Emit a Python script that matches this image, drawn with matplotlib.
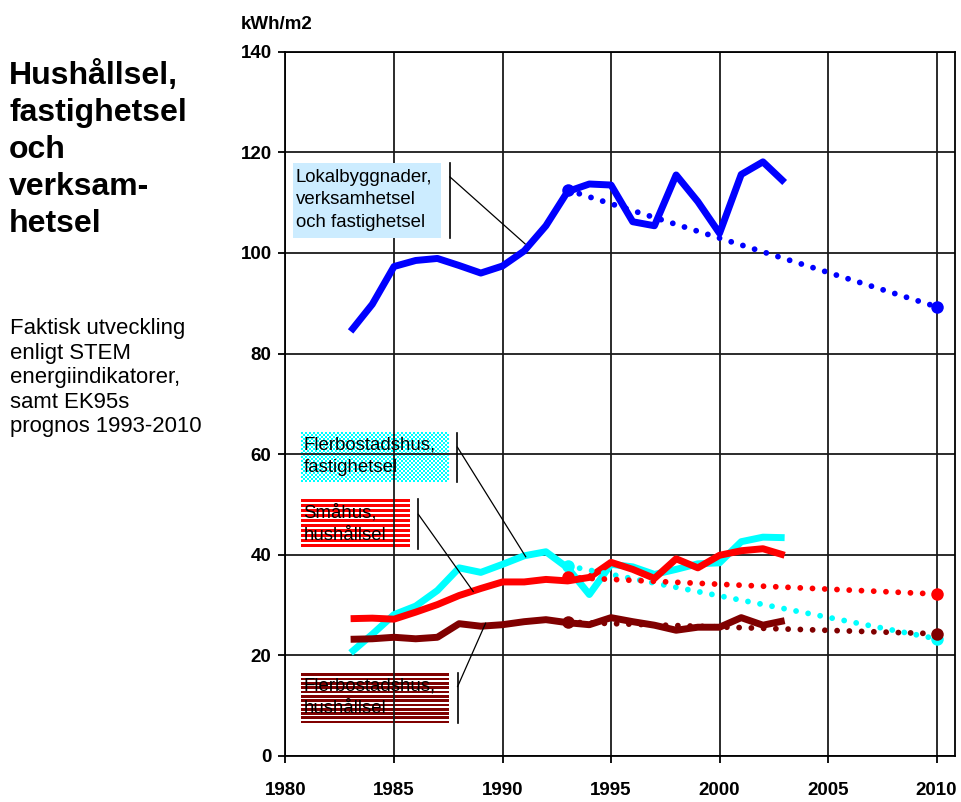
import matplotlib
matplotlib.use("Agg")
import matplotlib.pyplot as plt
import numpy as np
from matplotlib.patches import Rectangle

plt.rcParams['font.family'] = ['Liberation Sans', 'DejaVu Sans']

# faktisk utveckling 1983-2003
years = list(range(1983, 2004))
lokal = [84.4, 89.8, 97.3, 98.5, 98.9, 97.5, 96.0, 97.4, 100.4, 105.4, 112.2,
         113.7, 113.5, 106.2, 105.4, 115.5, 110.2, 103.9, 115.6, 118.1, 114.0]
fler_fast = [20.5, 24.2, 28.1, 29.8, 32.9, 37.4, 36.5, 38.1, 39.8, 40.6, 37.4,
             32.1, 38.1, 37.6, 36.1, 37.1, 38.2, 38.4, 42.6, 43.5, 43.4]
smahus = [27.3, 27.4, 27.2, 28.6, 30.1, 31.9, 33.3, 34.6, 34.6, 35.1, 34.8,
          35.5, 38.5, 37.1, 35.3, 39.2, 37.4, 39.9, 40.8, 41.2, 39.9]
fler_hush = [23.2, 23.3, 23.6, 23.3, 23.6, 26.3, 25.8, 26.1, 26.7, 27.1, 26.5,
             26.1, 27.5, 26.7, 26.0, 25.0, 25.6, 25.6, 27.5, 26.0, 26.9]

# EK95 prognos
prog_years = [1993, 2010]
lokal_prog = [112.5, 89.3]
fler_fast_prog = [37.8, 23.3]
smahus_prog = [35.5, 32.2]
fler_hush_prog = [26.6, 24.3]

x_ticks = list(range(1980, 2011, 5))
y_ticks = list(range(0, 141, 20))

BLUE = '#0000FF'
CYAN = '#00FFFF'
RED = '#FF0000'
DRED = '#800000'

fig = plt.figure(figsize=(9.62, 8.02), dpi=100, facecolor='white')
W, H = 962, 802
ax = fig.add_axes([285.5 / W, 1 - 756 / H, (955 - 285.5) / W, (756 - 51.7) / H])
ax.patch.set_visible(False)
ax.set_xlim(1980, 2010.85)
ax.set_ylim(0, 140)
ax.set_xticks(x_ticks)
ax.set_yticks(y_ticks)
ax.grid(True, color='#1a1a1a', lw=1.3)
for s in ax.spines.values():
    s.set_color('black')
    s.set_linewidth(1.3)
ax.tick_params(axis='x', direction='out', length=5, width=1.3, pad=13.5)
ax.tick_params(axis='y', direction='out', length=5, width=1.3, pad=5)
for lab in ax.get_xticklabels() + ax.get_yticklabels():
    lab.set_fontweight('bold')
    lab.set_fontsize(13.5)

dot = (0, (0.001, 2.1))
series = [(fler_fast, fler_fast_prog, CYAN),
          (fler_hush, fler_hush_prog, DRED),
          (smahus, smahus_prog, RED),
          (lokal, lokal_prog, BLUE)]
for actual, prog, col in series:
    ax.plot(years, actual, color=col, lw=5, solid_joinstyle='round',
            solid_capstyle='butt', zorder=3)
for actual, prog, col in series:
    ax.plot(prog_years, prog, color=col, lw=4.2, linestyle=dot,
            dash_capstyle='round', marker='o', markersize=9,
            markeredgewidth=0, zorder=4)

BOX_FS = 13.4
BOX_LS = 1.42

# etikett: Lokalbyggnader
ax.add_patch(Rectangle((1980.35, 103.0), 1987.17 - 1980.35, 117.9 - 103.0,
                       facecolor='#CCECFF', edgecolor='none', zorder=2))
ax.text(1980.47, 110.6, 'Lokalbyggnader,\nverksamhetsel\noch fastighetsel',
        fontsize=BOX_FS, va='center', ha='left', linespacing=BOX_LS, zorder=5)
ax.plot([1987.58, 1987.58], [103.0, 117.9], color='black', lw=1.2, zorder=5)
ax.plot([1987.58, 1991.04], [115.1, 101.8], color='black', lw=0.9, zorder=5)


def pattern_box(x0, y0, x1, y1, kind, color):
    (px0, py0), (px1, py1) = ax.transData.transform([(x0, y0), (x1, y1)])
    w = int(round(px1 - px0))
    h = int(round(py1 - py0))
    rgba = np.zeros((h, w, 4))
    rgba[..., :3] = matplotlib.colors.to_rgb(color)
    rr, cc = np.mgrid[0:h, 0:w]
    if kind == 'checker':
        mask = ((rr // 2) + (cc // 2)) % 2 == 0
    elif kind == 'red':
        mask = (rr % 5.0) < 2.8
    else:
        mask = (rr % 4.3) < 2.7
    rgba[..., 3] = mask.astype(float)
    fig.figimage(rgba, int(round(px0)), int(round(py0)), zorder=-1, origin='upper')


# Flerbostadshus, fastighetsel
pattern_box(1980.70, 54.4, 1987.53, 64.4, 'checker', CYAN)
ax.text(1980.82, 59.5, 'Flerbostadshus,\nfastighetsel', fontsize=BOX_FS,
        va='center', ha='left', linespacing=BOX_LS, zorder=5)
ax.plot([1987.92, 1987.92], [54.5, 64.2], color='black', lw=1.2, zorder=5)
ax.plot([1987.92, 1991.07], [61.4, 39.6], color='black', lw=0.9, zorder=5)

# Småhus, hushållsel
pattern_box(1980.70, 41.1, 1985.71, 51.1, 'red', RED)
ax.text(1980.82, 46.2, 'Småhus,\nhushållsel', fontsize=BOX_FS,
        va='center', ha='left', linespacing=BOX_LS, zorder=5)
ax.plot([1986.12, 1986.12], [41.2, 51.1], color='black', lw=1.2, zorder=5)
ax.plot([1986.12, 1988.65], [48.05, 32.7], color='black', lw=0.9, zorder=5)

# Flerbostadshus, hushållsel
pattern_box(1980.70, 6.5, 1987.53, 16.44, 'dred', DRED)
ax.text(1980.82, 11.6, 'Flerbostadshus,\nhushållsel', fontsize=BOX_FS,
        va='center', ha='left', linespacing=BOX_LS, zorder=5)
ax.plot([1987.93, 1987.93], [6.5, 16.5], color='black', lw=1.2, zorder=5)
ax.plot([1987.93, 1989.22], [13.8, 26.4], color='black', lw=0.9, zorder=5)

fig.text(240.7 / W, 1 - 29 / H, 'kWh/m2', fontsize=13.5, fontweight='bold',
         ha='left', va='baseline')

title_lines = ['Hushållsel,', 'fastighetsel', 'och', 'verksam-', 'hetsel']
for i, t in enumerate(title_lines):
    fig.text(9 / W, 1 - (84 + 37 * i) / H, t, fontsize=23, fontweight='bold',
             ha='left', va='baseline')

sub_lines = ['Faktisk utveckling', 'enligt STEM', 'energiindikatorer,',
             'samt EK95s', 'prognos 1993-2010']
for i, t in enumerate(sub_lines):
    fig.text(10 / W, 1 - (334 + 24.5 * i) / H, t, fontsize=15.9,
             ha='left', va='baseline')

fig.savefig('out.png', dpi=100, facecolor='white')
